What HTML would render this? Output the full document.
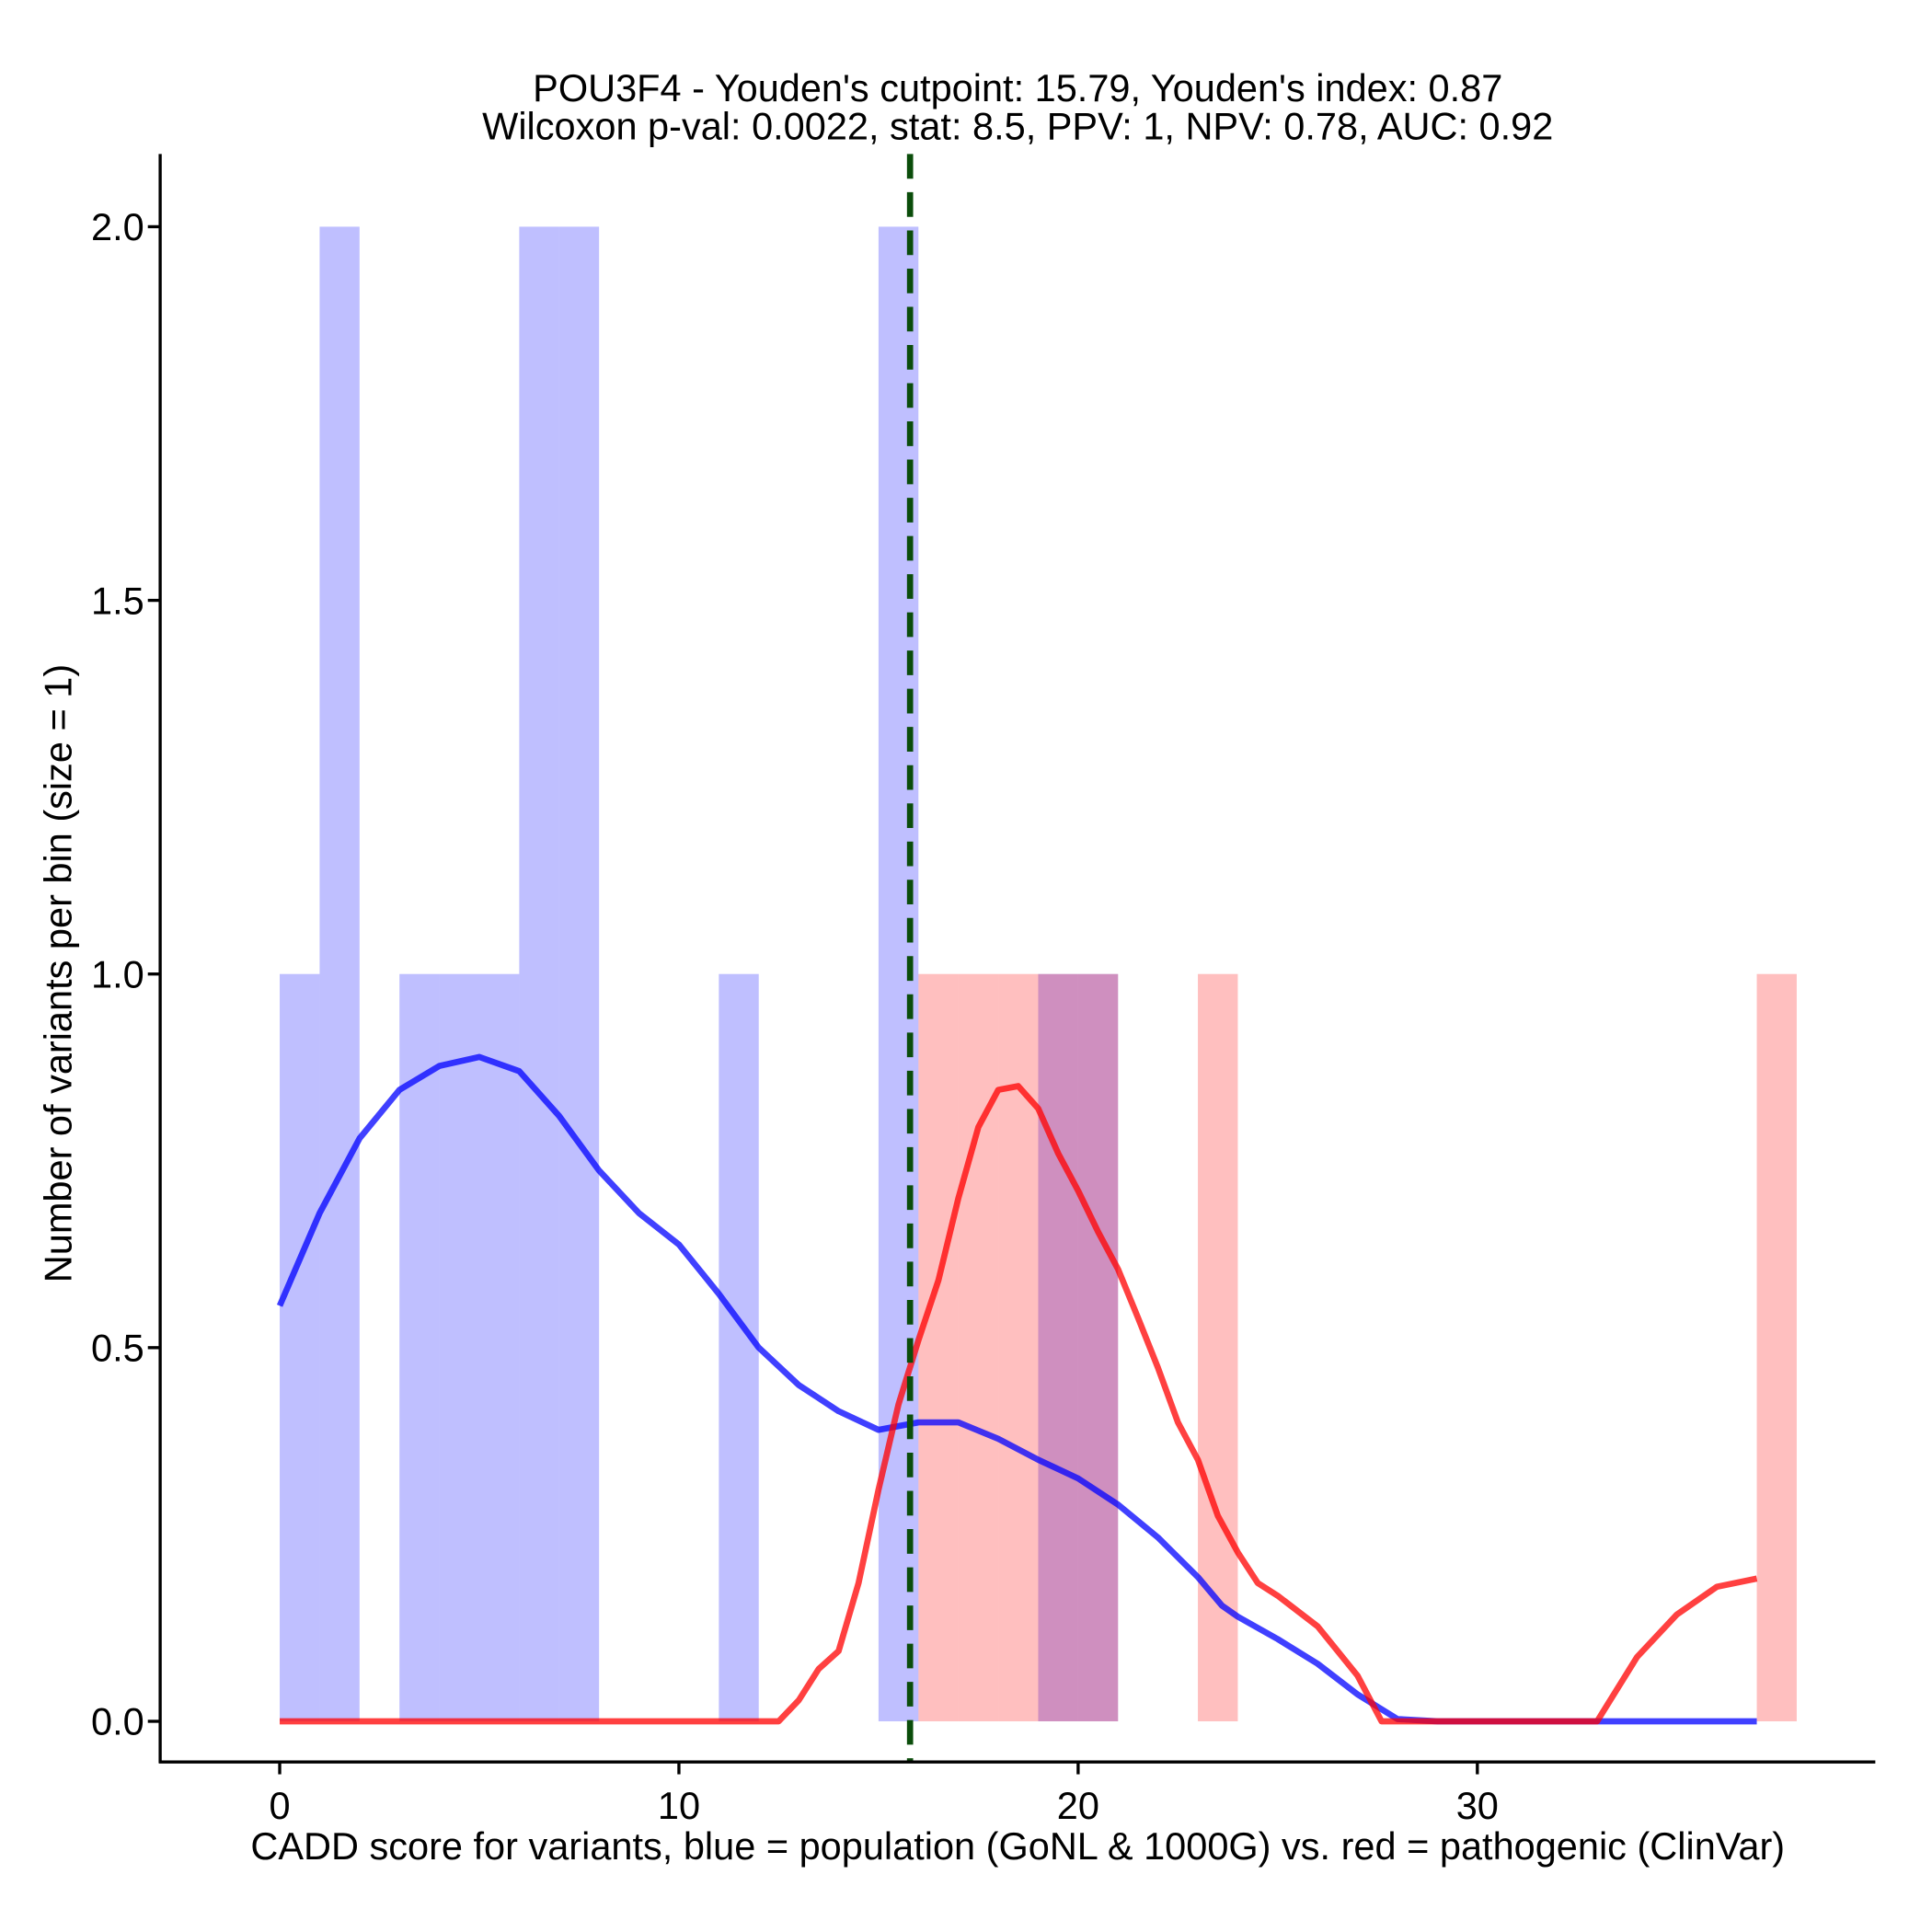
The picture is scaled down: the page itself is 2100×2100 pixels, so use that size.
<!DOCTYPE html>
<html><head><meta charset="utf-8"><style>
html,body{margin:0;padding:0;background:#fff;}
svg{display:block;}
text{font-family:"Liberation Sans",Arial,sans-serif;fill:#000;}
</style></head><body>
<svg id="chart" width="2100" height="2100" viewBox="0 0 1568 1568" xmlns="http://www.w3.org/2000/svg">
<g id="bars"></g>
<g id="lines"></g>
<g id="axes"></g>
<text x="826" y="82" font-size="31" text-anchor="middle">POU3F4 - Youden's cutpoint: 15.79, Youden's index: 0.87</text>
<text x="826" y="113" font-size="31" text-anchor="middle">Wilcoxon p-val: 0.0022, stat: 8.5, PPV: 1, NPV: 0.78, AUC: 0.92</text>
<text x="826" y="1509" font-size="31" text-anchor="middle">CADD score for variants, blue = population (GoNL &amp; 1000G) vs. red = pathogenic (ClinVar)</text>
<text x="0" y="0" font-size="31" text-anchor="middle" transform="translate(58,790) rotate(-90)">Number of variants per bin (size = 1)</text>
</svg>
<script>
const blueBinStarts = [0,1,3,4,5,6,7,11,15,19,20];
const blueCounts    = [1,2,1,1,1,2,2,1,2,1,1];
const redBinStarts  = [16,17,18,19,20,23,37];
const redCounts     = [1,1,1,1,1,1,1];
const blueDensX = [0,1,2,3,4,5,6,7,8,9,10,11,12,13,14,15,16,17,18,19,20,21,22,23,23.6,24,25,26,27,28,29,30,31,32,33,34,35,36,37];
const blueDensY = [0.556,0.68,0.78,0.845,0.877,0.889,0.87,0.81,0.737,0.68,0.638,0.572,0.5,0.45,0.415,0.39,0.40,0.40,0.378,0.35,0.325,0.29,0.246,0.193,0.155,0.14,0.11,0.077,0.036,0.003,0,0,0,0,0,0,0,0,0];
const redDensX = [0,5,10,12.5,13,13.5,14,14.5,15,15.5,16,16.5,17,17.5,18,18.5,19,19.5,20,20.5,21,21.5,22,22.5,23,23.5,24,24.5,25,26,27,27.6,30,33,34,35,36,37];
const redDensY = [0,0,0,0,0.028,0.07,0.094,0.185,0.31,0.424,0.51,0.59,0.70,0.795,0.845,0.85,0.82,0.76,0.71,0.655,0.605,0.54,0.473,0.4,0.35,0.275,0.226,0.185,0.168,0.127,0.061,0,0,0,0.086,0.143,0.18,0.191];
const xTicks = [0,10,20,30];
const yTicks = [0,0.5,1,1.5,2];
const yTickLabels = ["0.0","0.5","1.0","1.5","2.0"];
const cutpoint = 15.79;

const NS="http://www.w3.org/2000/svg";
const sx = v => 227 + v*32.4;
const sy = v => 1397 - v*606.5;
function mk(tag, attrs, parent){const e=document.createElementNS(NS,tag);for(const k in attrs)e.setAttribute(k,attrs[k]);parent.appendChild(e);return e;}
const bars=document.getElementById('bars'), lines=document.getElementById('lines'), axes=document.getElementById('axes');

blueBinStarts.forEach((s,i)=>{
  const r=mk('rect',{x:sx(s),y:sy(blueCounts[i]),width:sx(s+1)-sx(s),height:sy(0)-sy(blueCounts[i]),fill:'#0000ff','fill-opacity':0.25},bars);
  
  
});
redBinStarts.forEach((s,i)=>{
  const r=mk('rect',{x:sx(s),y:sy(redCounts[i]),width:sx(s+1)-sx(s),height:sy(0)-sy(redCounts[i]),fill:'#ff0000','fill-opacity':0.25},bars);
  
  
});

function poly(xs,ys,color,name){
  const p=mk('polyline',{points:xs.map((x,i)=>sx(x)+','+sy(ys[i])).join(' '),fill:'none',stroke:color,'stroke-opacity':0.75,'stroke-width':5,'stroke-linejoin':'round'},lines);
  
  
}
poly(blueDensX,blueDensY,'#0000ff','population-density-line');
poly(redDensX,redDensY,'#ff0000','pathogenic-density-line');

const cut=mk('line',{x1:sx(cutpoint),x2:sx(cutpoint),y1:125,y2:1430,stroke:'#0b4d0b','stroke-width':5,'stroke-dasharray':'20 11'},lines);



const ya=mk('line',{x1:130,x2:130,y1:125,y2:1431,stroke:'#000','stroke-width':2.5},axes);


const xa=mk('line',{x1:129,x2:1522,y1:1430,y2:1430,stroke:'#000','stroke-width':2.5},axes);


xTicks.forEach(t=>{
  const l=mk('line',{x1:sx(t),x2:sx(t),y1:1430,y2:1440,stroke:'#000','stroke-width':2.5},axes);
  
  
  const tx=mk('text',{x:sx(t),y:1476,'font-size':31,'text-anchor':'middle'},axes);
  tx.textContent=String(t);
  
  
});
yTicks.forEach((t,i)=>{
  const l=mk('line',{x1:120,x2:130,y1:sy(t),y2:sy(t),stroke:'#000','stroke-width':2.5},axes);
  
  
  const tx=mk('text',{x:117,y:sy(t)+11,'font-size':31,'text-anchor':'end'},axes);
  tx.textContent=yTickLabels[i];
  
  
});
</script>
</body></html>
